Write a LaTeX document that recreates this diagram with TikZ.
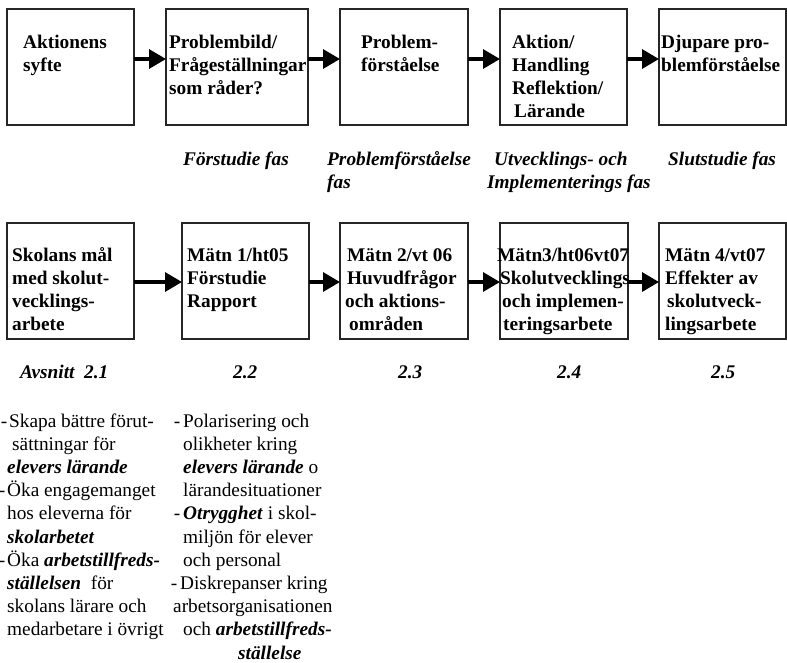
\documentclass[tikz,border=0pt]{standalone}
\usepackage{fontspec}
\setmainfont{Liberation Serif}
\usetikzlibrary{arrows.meta}

% stacked left-aligned lines, baseline = first line, fixed line pitch
\newcommand\lns[1]{\vtop{\baselineskip=23.2pt\lineskiplimit=-100pt\lineskip=0pt\halign{##\hfil\cr#1\crcr}}}
\newcommand\bi[1]{\textbf{\textit{#1}}}
\newcommand\basefont{\fontsize{19.3pt}{23.2pt}\selectfont}
\newcommand\dash[1]{\llap{-\hspace{#1}}}

\begin{document}
\begin{tikzpicture}[x=1pt,y=-1pt,
  stage/.style={draw=black!85,line width=1.3pt,inner sep=0pt,outer sep=0pt,anchor=north west,minimum height=116pt},
  boxtext/.style={font=\basefont\bfseries,anchor=base west,inner sep=0pt},
  phase/.style={font=\basefont\bfseries\itshape,anchor=base west,inner sep=0pt},
  note/.style={font=\basefont,anchor=base west,inner sep=0pt},
  flow/.style={line width=3.3pt,-{Triangle[length=17pt,width=19pt]}}]

\useasboundingbox (0,0) rectangle (787,662);

% process chain
\node[stage,minimum width=127pt] (a1) at (7,9) {};
\node[stage,minimum width=142pt] (a2) at (166,9) {};
\node[stage,minimum width=128pt] (a3) at (340,9) {};
\node[stage,minimum width=127pt] (a4) at (500,9) {};
\node[stage,minimum width=127pt] (a5) at (659,9) {};

\node[boxtext] (ta1) at (23,48) {\lns{Aktionens\cr syfte}};
\node[boxtext] (ta2) at (169,48) {\lns{Problembild/\cr Frågeställningar\cr som råder?}};
\node[boxtext] (ta3) at (361,48) {\lns{Problem-\cr förståelse}};
\node[boxtext] (ta4) at (512,48) {\lns{Aktion/\cr Handling\cr Reflektion/\cr \hspace{2pt}Lärande}};
\node[boxtext] (ta5) at (661,48) {\lns{Djupare pro-\cr blemförståelse}};

\foreach \u/\v in {a1/a2,a2/a3,a3/a4,a4/a5}
  \draw[flow] ([yshift=-50pt]\u.north east) -- ([yshift=-50pt]\v.north west);

% phases
\node[phase] (p1) at (183,165) {Förstudie fas};
\node[phase] (p2) at (327,165) {\lns{Problemförståelse\cr fas}};
\node[phase] (p3) at (487,165) {\lns{\hspace{7pt}Utvecklings- och\cr Implementerings fas}};
\node[phase] (p4) at (668,165) {Slutstudie fas};

% measurement chain
\node[stage,minimum width=127pt] (b1) at (7,223) {};
\node[stage,minimum width=127pt] (b2) at (182,223) {};
\node[stage,minimum width=128pt] (b3) at (340,223) {};
\node[stage,minimum width=128pt] (b4) at (500,223) {};
\node[stage,minimum width=127pt] (b5) at (659,223) {};

\node[boxtext] (tb1) at (12,261) {\lns{Skolans mål\cr med skolut-\cr vecklings-\cr arbete}};
\node[boxtext] (tb2) at (187,261) {\lns{Mätn 1/ht05\cr Förstudie\cr Rapport}};
\node[boxtext] (tb3) at (347,261) {\lns{Mätn 2/vt 06\cr Huvudfrågor\cr \hspace{-2pt}och aktions-\cr \hspace{2pt}områden}};
\node[boxtext] (tb4) at (497,261) {\lns{Mätn3/ht06vt07\cr \hspace{3pt}Skolutvecklings\cr \hspace{5pt}och implemen-\cr \hspace{6pt}teringsarbete}};
\node[boxtext] (tb5) at (665,261) {\lns{Mätn 4/vt07\cr Effekter av\cr \hspace{2pt}skolutveck-\cr lingsarbete}};

\foreach \u/\v in {b1/b2,b2/b3,b3/b4,b4/b5}
  \draw[flow] ([yshift=-59pt]\u.north east) -- ([yshift=-59pt]\v.north west);

% section numbers
\node[phase] (s1) at (20,378) {Avsnitt\ \ 2.1};
\node[phase] (s2) at (233,378) {2.2};
\node[phase] (s3) at (398,378) {2.3};
\node[phase] (s4) at (557,378) {2.4};
\node[phase] (s5) at (711,378) {2.5};

% goals and problem areas
\node[note] (n1) at (7,427) {\lns{%
  \hspace{2pt}\dash{2pt}Skapa bättre förut-\cr
  \hspace{5pt}sättningar för\cr
  \bi{elevers lärande}\cr
  \dash{2pt}Öka engagemanget\cr
  hos eleverna för\cr
  \bi{skolarbetet}\cr
  \dash{2pt}Öka \bi{arbetstillfreds-}\cr
  \bi{ställelsen}\ \ för\cr
  skolans lärare och\cr
  medarbetare i övrigt}};

\node[note] (n2) at (183,427) {\lns{%
  \dash{3pt}Polarisering och\cr
  olikheter kring\cr
  \bi{elevers lärande} o\cr
  lärandesituationer\cr
  \dash{3pt}\bi{Otrygghet} i skol-\cr
  miljön för elever\cr
  och personal\cr
  \hspace{-3pt}\dash{3pt}Diskrepanser kring\cr
  \hspace{-10pt}arbetsorganisationen\cr
  och \bi{arbetstillfreds-}\cr
  \hspace{55pt}\bi{ställelse}}};

\end{tikzpicture}
\end{document}
